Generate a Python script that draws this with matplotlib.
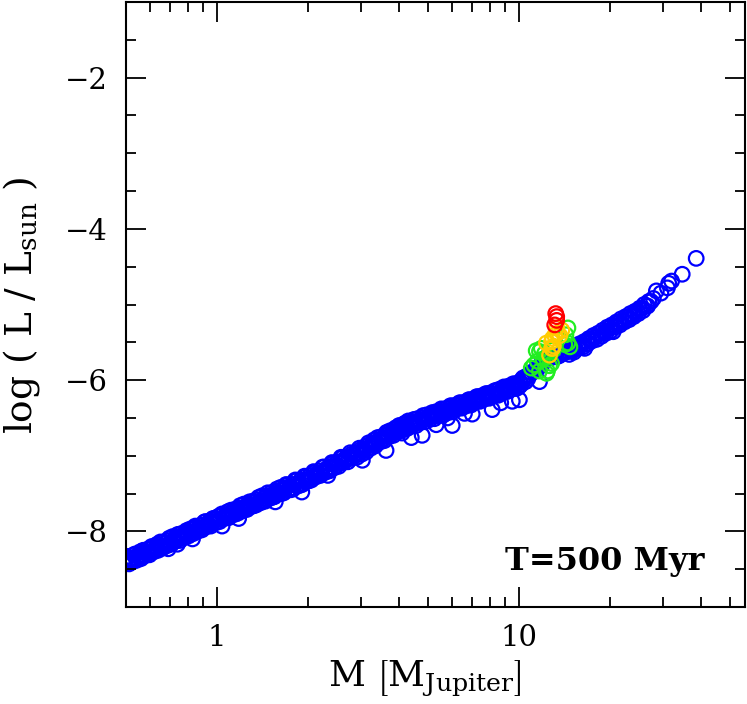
import matplotlib
matplotlib.use("Agg")
import matplotlib.pyplot as plt
from matplotlib.ticker import FixedLocator, NullFormatter, LogLocator, MultipleLocator

plt.rcParams['font.family'] = ['DejaVu Serif']
plt.rcParams['mathtext.fontset'] = 'dejavuserif'

# ---- data (mass in M_Jupiter, log L/Lsun) ----
band_mass = [
    0.500, 0.508, 0.515, 0.523, 0.531, 0.540, 0.548, 0.557, 0.566, 0.575, 0.584, 0.594, 0.603, 0.613,
    0.624, 0.634, 0.645, 0.655, 0.666, 0.678, 0.689, 0.700, 0.712, 0.724, 0.736, 0.749, 0.761, 0.774,
    0.787, 0.800, 0.814, 0.828, 0.842, 0.856, 0.870, 0.885, 0.900, 0.915, 0.931, 0.947, 0.963, 0.979,
    0.995, 1.012, 1.030, 1.048, 1.066, 1.085, 1.104, 1.123, 1.143, 1.163, 1.184, 1.205, 1.226, 1.248,
    1.270, 1.292, 1.315, 1.338, 1.362, 1.386, 1.410, 1.435, 1.460, 1.486, 1.512, 1.539, 1.566, 1.594,
    1.622, 1.651, 1.680, 1.710, 1.740, 1.771, 1.802, 1.834, 1.866, 1.899, 1.932, 1.966, 2.001, 2.036,
    2.072, 2.108, 2.145, 2.183, 2.221, 2.260, 2.300, 2.340, 2.381, 2.423, 2.466, 2.509, 2.553, 2.598,
    2.644, 2.690, 2.737, 2.785, 2.834, 2.884, 2.935, 2.986, 3.039, 3.092, 3.146, 3.201, 3.257, 3.314,
    3.372, 3.431, 3.491, 3.552, 3.614, 3.677, 3.741, 3.807, 3.873, 3.941, 4.010, 4.080, 4.151, 4.224,
    4.298, 4.373, 4.450, 4.528, 4.607, 4.688, 4.770, 4.854, 4.939, 5.025, 5.113, 5.203, 5.294, 5.387,
    5.481, 5.577, 5.675, 5.774, 5.875, 5.978, 6.083, 6.190, 6.298, 6.409, 6.521, 6.635, 6.752, 6.870,
    6.990, 7.113, 7.237, 7.364, 7.493, 7.624, 7.758, 7.894, 8.032, 8.173, 8.316, 8.461, 8.609, 8.760,
    8.913, 9.069, 9.228, 9.390, 9.554, 9.721, 9.891, 10.06, 10.24, 10.42, 10.60, 10.79, 10.98, 11.17,
    11.37, 11.57, 11.77, 11.98, 12.19, 12.41, 12.63, 12.85, 13.08, 13.31, 13.55, 13.79, 14.03, 14.28,
    14.53, 14.79, 15.05, 15.32, 15.59, 15.87, 16.15, 16.44, 16.73, 17.03, 17.33, 17.64, 17.95, 18.27,
    18.59, 18.92, 19.26, 19.60, 19.95, 20.30, 20.66, 21.03, 21.40, 21.78, 22.17, 22.56, 22.96, 23.37,
    23.78, 24.20, 24.63, 25.07, 25.51, 25.96, 26.42, 26.89, 27.37, 27.85, 28.5, 29.5, 31.0, 31.3,
    32.0, 34.7, 38.6,
]
band_logL = [
    -8.37, -8.41, -8.36, -8.36, -8.31, -8.35, -8.32, -8.27, -8.32, -8.27, -8.27, -8.23, -8.28, -8.22,
    -8.23, -8.17, -8.18, -8.20, -8.14, -8.15, -8.12, -8.15, -8.07, -8.10, -8.07, -8.09, -8.03, -8.06,
    -8.01, -8.02, -7.97, -8.01, -7.97, -7.94, -7.96, -7.92, -7.95, -7.87, -7.90, -7.86, -7.88, -7.83,
    -7.84, -7.80, -7.84, -7.78, -7.79, -7.74, -7.77, -7.74, -7.71, -7.74, -7.69, -7.70, -7.64, -7.68,
    -7.64, -7.66, -7.60, -7.61, -7.58, -7.60, -7.53, -7.56, -7.53, -7.55, -7.49, -7.51, -7.47, -7.49,
    -7.42, -7.45, -7.43, -7.39, -7.43, -7.38, -7.38, -7.33, -7.37, -7.32, -7.33, -7.28, -7.31, -7.26,
    -7.29, -7.22, -7.24, -7.20, -7.22, -7.15, -7.18, -7.15, -7.17, -7.10, -7.11, -7.08, -7.09, -7.03,
    -7.05, -7.02, -7.04, -6.98, -6.99, -6.96, -6.97, -6.92, -6.93, -6.88, -6.91, -6.85, -6.85, -6.79,
    -6.82, -6.79, -6.75, -6.78, -6.72, -6.72, -6.67, -6.69, -6.65, -6.67, -6.60, -6.62, -6.59, -6.61,
    -6.54, -6.57, -6.55, -6.57, -6.51, -6.53, -6.50, -6.52, -6.46, -6.48, -6.45, -6.48, -6.42, -6.44,
    -6.42, -6.39, -6.42, -6.37, -6.38, -6.34, -6.37, -6.33, -6.34, -6.30, -6.34, -6.29, -6.30, -6.26,
    -6.28, -6.25, -6.22, -6.26, -6.21, -6.22, -6.18, -6.21, -6.17, -6.18, -6.14, -6.18, -6.12, -6.13,
    -6.09, -6.12, -6.08, -6.09, -6.05, -6.08, -6.04, -6.03, -5.99, -5.98, -5.95, -5.94, -5.90, -5.89,
    -5.85, -5.84, -5.80, -5.78, -5.74, -5.72, -5.69, -5.70, -5.68, -5.69, -5.68, -5.66, -5.64, -5.63,
    -5.62, -5.60, -5.61, -5.56, -5.56, -5.52, -5.53, -5.49, -5.49, -5.45, -5.46, -5.41, -5.43, -5.38,
    -5.38, -5.34, -5.36, -5.30, -5.31, -5.27, -5.28, -5.23, -5.24, -5.19, -5.21, -5.16, -5.17, -5.12,
    -5.14, -5.09, -5.09, -5.05, -5.05, -5.00, -5.02, -4.96, -4.96, -4.92, -4.82, -4.85, -4.78, -4.72,
    -4.69, -4.60, -4.39,
]

# second, slightly offset layer of the densely packed main sequence
band2_mass = [
    0.504, 0.519, 0.535, 0.552, 0.570, 0.589, 0.608, 0.629, 0.650, 0.672, 0.695, 0.718, 0.742, 0.767,
    0.793, 0.820, 0.848, 0.877, 0.907, 0.938, 0.970, 1.003, 1.038, 1.074, 1.112, 1.152, 1.193, 1.236,
    1.281, 1.327, 1.374, 1.423, 1.473, 1.525, 1.580, 1.636, 1.695, 1.755, 1.818, 1.883, 1.950, 2.020,
    2.090, 2.163, 2.240, 2.320, 2.402, 2.487, 2.575, 2.667, 2.761, 2.859, 2.960, 3.065, 3.174, 3.286,
    3.402, 3.522, 3.646, 3.775, 3.908, 4.045, 4.188, 4.335, 4.489, 4.647, 4.811, 4.981, 5.157, 5.340,
    5.529, 5.725, 5.926, 6.136, 6.352, 6.577, 6.810, 7.050, 7.300, 7.558, 7.826, 8.102, 8.388, 8.685,
    8.991, 9.309, 9.638, 9.980, 10.33, 10.70,
]
band2_logL = [
    -8.33, -8.39, -8.30, -8.34, -8.25, -8.29, -8.20, -8.24, -8.14, -8.19, -8.09, -8.14, -8.04, -8.08,
    -7.99, -8.03, -7.93, -7.98, -7.88, -7.92, -7.83, -7.87, -7.77, -7.82, -7.72, -7.77, -7.66, -7.70,
    -7.61, -7.66, -7.55, -7.60, -7.49, -7.55, -7.44, -7.50, -7.38, -7.45, -7.32, -7.39, -7.27, -7.33,
    -7.21, -7.26, -7.15, -7.20, -7.09, -7.13, -7.02, -7.06, -6.96, -7.00, -6.90, -6.93, -6.83, -6.86,
    -6.76, -6.79, -6.69, -6.72, -6.63, -6.67, -6.57, -6.60, -6.52, -6.56, -6.47, -6.50, -6.43, -6.46,
    -6.38, -6.42, -6.34, -6.38, -6.30, -6.34, -6.26, -6.30, -6.22, -6.26, -6.18, -6.22, -6.14, -6.18,
    -6.10, -6.13, -6.05, -6.09, -5.97, -5.98,
]

# third layer: the lower half of the thick sequence
band3_mass = [
    0.512, 0.527, 0.544, 0.561, 0.580, 0.598, 0.618, 0.639, 0.661, 0.683, 0.706, 0.730, 0.755, 0.780,
    0.806, 0.834, 0.862, 0.892, 0.922, 0.954, 0.987, 1.021, 1.056, 1.093, 1.132, 1.172, 1.214, 1.258,
    1.304, 1.350, 1.398, 1.448, 1.499, 1.552, 1.608, 1.665, 1.725, 1.786, 1.850, 1.916, 1.985, 2.055,
    2.126, 2.201, 2.280, 2.361, 2.444, 2.531, 2.621, 2.714, 2.810, 2.909, 3.012, 3.119, 3.230, 3.344,
    3.462, 3.584, 3.710, 3.841, 3.976, 4.116, 4.261, 4.412, 4.568, 4.729, 4.896, 5.069, 5.248, 5.434,
    5.627, 5.825, 6.030, 6.244, 6.464, 6.693, 6.930, 7.175, 7.429, 7.692, 7.963, 8.245, 8.536, 8.838,
    9.150, 9.473, 9.808, 10.15, 10.52,
    14.66, 15.19, 15.73, 16.30, 16.88, 17.48, 18.11, 18.76, 19.43, 20.12, 20.84, 21.59, 22.36, 23.16,
    23.99, 24.85, 25.74, 26.66,
]
band3_logL = [
    -8.43, -8.40, -8.38, -8.36, -8.32, -8.31, -8.27, -8.25, -8.22, -8.19, -8.17, -8.13, -8.12, -8.08,
    -8.06, -8.03, -8.00, -7.98, -7.94, -7.93, -7.89, -7.87, -7.83, -7.82, -7.78, -7.76, -7.73, -7.71,
    -7.67, -7.65, -7.62, -7.60, -7.56, -7.54, -7.50, -7.49, -7.45, -7.44, -7.40, -7.38, -7.34, -7.32,
    -7.28, -7.26, -7.22, -7.20, -7.16, -7.14, -7.09, -7.08, -7.03, -7.02, -6.98, -6.95, -6.90, -6.87,
    -6.82, -6.80, -6.75, -6.73, -6.68, -6.66, -6.64, -6.61, -6.60, -6.56, -6.55, -6.52, -6.51, -6.47,
    -6.46, -6.43, -6.42, -6.38, -6.37, -6.34, -6.33, -6.29, -6.28, -6.25, -6.24, -6.21, -6.20, -6.16,
    -6.15, -6.12, -6.11, -6.06, -6.02,
    -5.66, -5.63, -5.58, -5.56, -5.52, -5.48, -5.46, -5.42, -5.38, -5.35, -5.30, -5.27, -5.23, -5.20,
    -5.16, -5.12, -5.08, -5.02,
]

# points lying below the main sequence
low_mass = [0.69, 0.74, 0.83, 1.04, 1.18, 1.56, 1.91, 2.33, 3.03, 3.63, 4.40, 4.78, 5.32, 6.01,
            7.00, 8.15, 9.50, 10.03, 11.69, 4.10, 5.80, 6.60, 8.70, 16.5, 20.5]
low_logL = [-8.23, -8.17, -8.10, -7.93, -7.83, -7.61, -7.48, -7.26, -7.06, -6.93, -6.76, -6.73,
            -6.59, -6.60, -6.45, -6.39, -6.28, -6.26, -6.02, -6.70, -6.50, -6.44, -6.30, -5.58, -5.36]

green_mass = [10.98, 11.20, 11.40, 11.50, 11.69, 11.69, 11.85, 12.00, 12.14, 12.33, 12.42, 12.50,
              12.62, 12.82, 13.00, 14.18, 14.30, 14.52, 14.52, 14.74]
green_logL = [-5.84, -5.80, -5.61, -5.75, -5.88, -5.62, -5.58, -5.72, -5.65, -5.91, -5.88, -5.67,
              -5.81, -5.78, -5.60, -5.53, -5.40, -5.31, -5.51, -5.56]

yellow_mass = [12.33, 12.62, 12.82, 12.82, 12.91, 12.91, 13.00, 13.13, 13.33, 13.40, 13.65, 13.86]
yellow_logL = [-5.51, -5.67, -5.49, -5.58, -5.45, -5.58, -5.55, -5.41, -5.31, -5.38, -5.41, -5.34]

red_mass = [13.13, 13.23, 13.33, 13.33]
red_logL = [-5.27, -5.12, -5.16, -5.21]

xtick_vals = [1, 10]
xtick_labels = ['1', '10']
ytick_vals = [-8, -6, -4, -2]

# ---- figure ----
fig = plt.figure(figsize=(7.47, 7.04), dpi=100)
ax = fig.add_axes([126/747, 97/704, 619/747, 605/704])

mk = dict(marker='o', s=110, facecolors='none', linewidths=1.6)
ax.scatter(band_mass, band_logL, edgecolors='#0000ff', **mk)
ax.scatter(band2_mass, band2_logL, edgecolors='#0000ff', **mk)
ax.scatter(band3_mass, band3_logL, edgecolors='#0000ff', **mk)
ax.scatter(low_mass, low_logL, edgecolors='#0000ff', **mk)
ax.scatter(green_mass, green_logL, edgecolors='#22ee22', **mk)
ax.scatter(yellow_mass, yellow_logL, edgecolors='#ffcc00', **mk)
ax.scatter(red_mass, red_logL, edgecolors='#ff0000', **mk)

ax.set_xscale('log')
ax.set_xlim(0.5, 56)
ax.set_ylim(-9, -1)

ax.xaxis.set_major_locator(FixedLocator(xtick_vals))
ax.set_xticklabels(xtick_labels)
ax.xaxis.set_minor_locator(LogLocator(base=10, subs=[2, 3, 4, 5, 6, 7, 8, 9]))
ax.xaxis.set_minor_formatter(NullFormatter())
ax.yaxis.set_major_locator(FixedLocator(ytick_vals))
ax.yaxis.set_minor_locator(MultipleLocator(0.5))

for s in ax.spines.values():
    s.set_linewidth(1.5)
ax.tick_params(which='both', direction='in', top=True, right=True, width=1.3, labelsize=21)
ax.tick_params(which='major', length=14.5)
ax.tick_params(which='minor', length=7.5)
ax.tick_params(axis='y', pad=13)
ax.tick_params(axis='x', pad=12)

ax.text(0.935, 0.061, 'T=500 Myr', transform=ax.transAxes, ha='right', va='baseline',
        fontsize=23, fontweight='bold')

fig.text(425/747, 1 - 679/704, r'M $\left[\mathrm{M_{Jupiter}}\right]$', ha='center', va='center',
         fontsize=26)
fig.text(22/747, 1 - 305/704, r'log ( L / L$_{\mathrm{sun}}$ )', ha='center', va='center',
         rotation=90, fontsize=27)

fig.savefig('out.png', dpi=100)
